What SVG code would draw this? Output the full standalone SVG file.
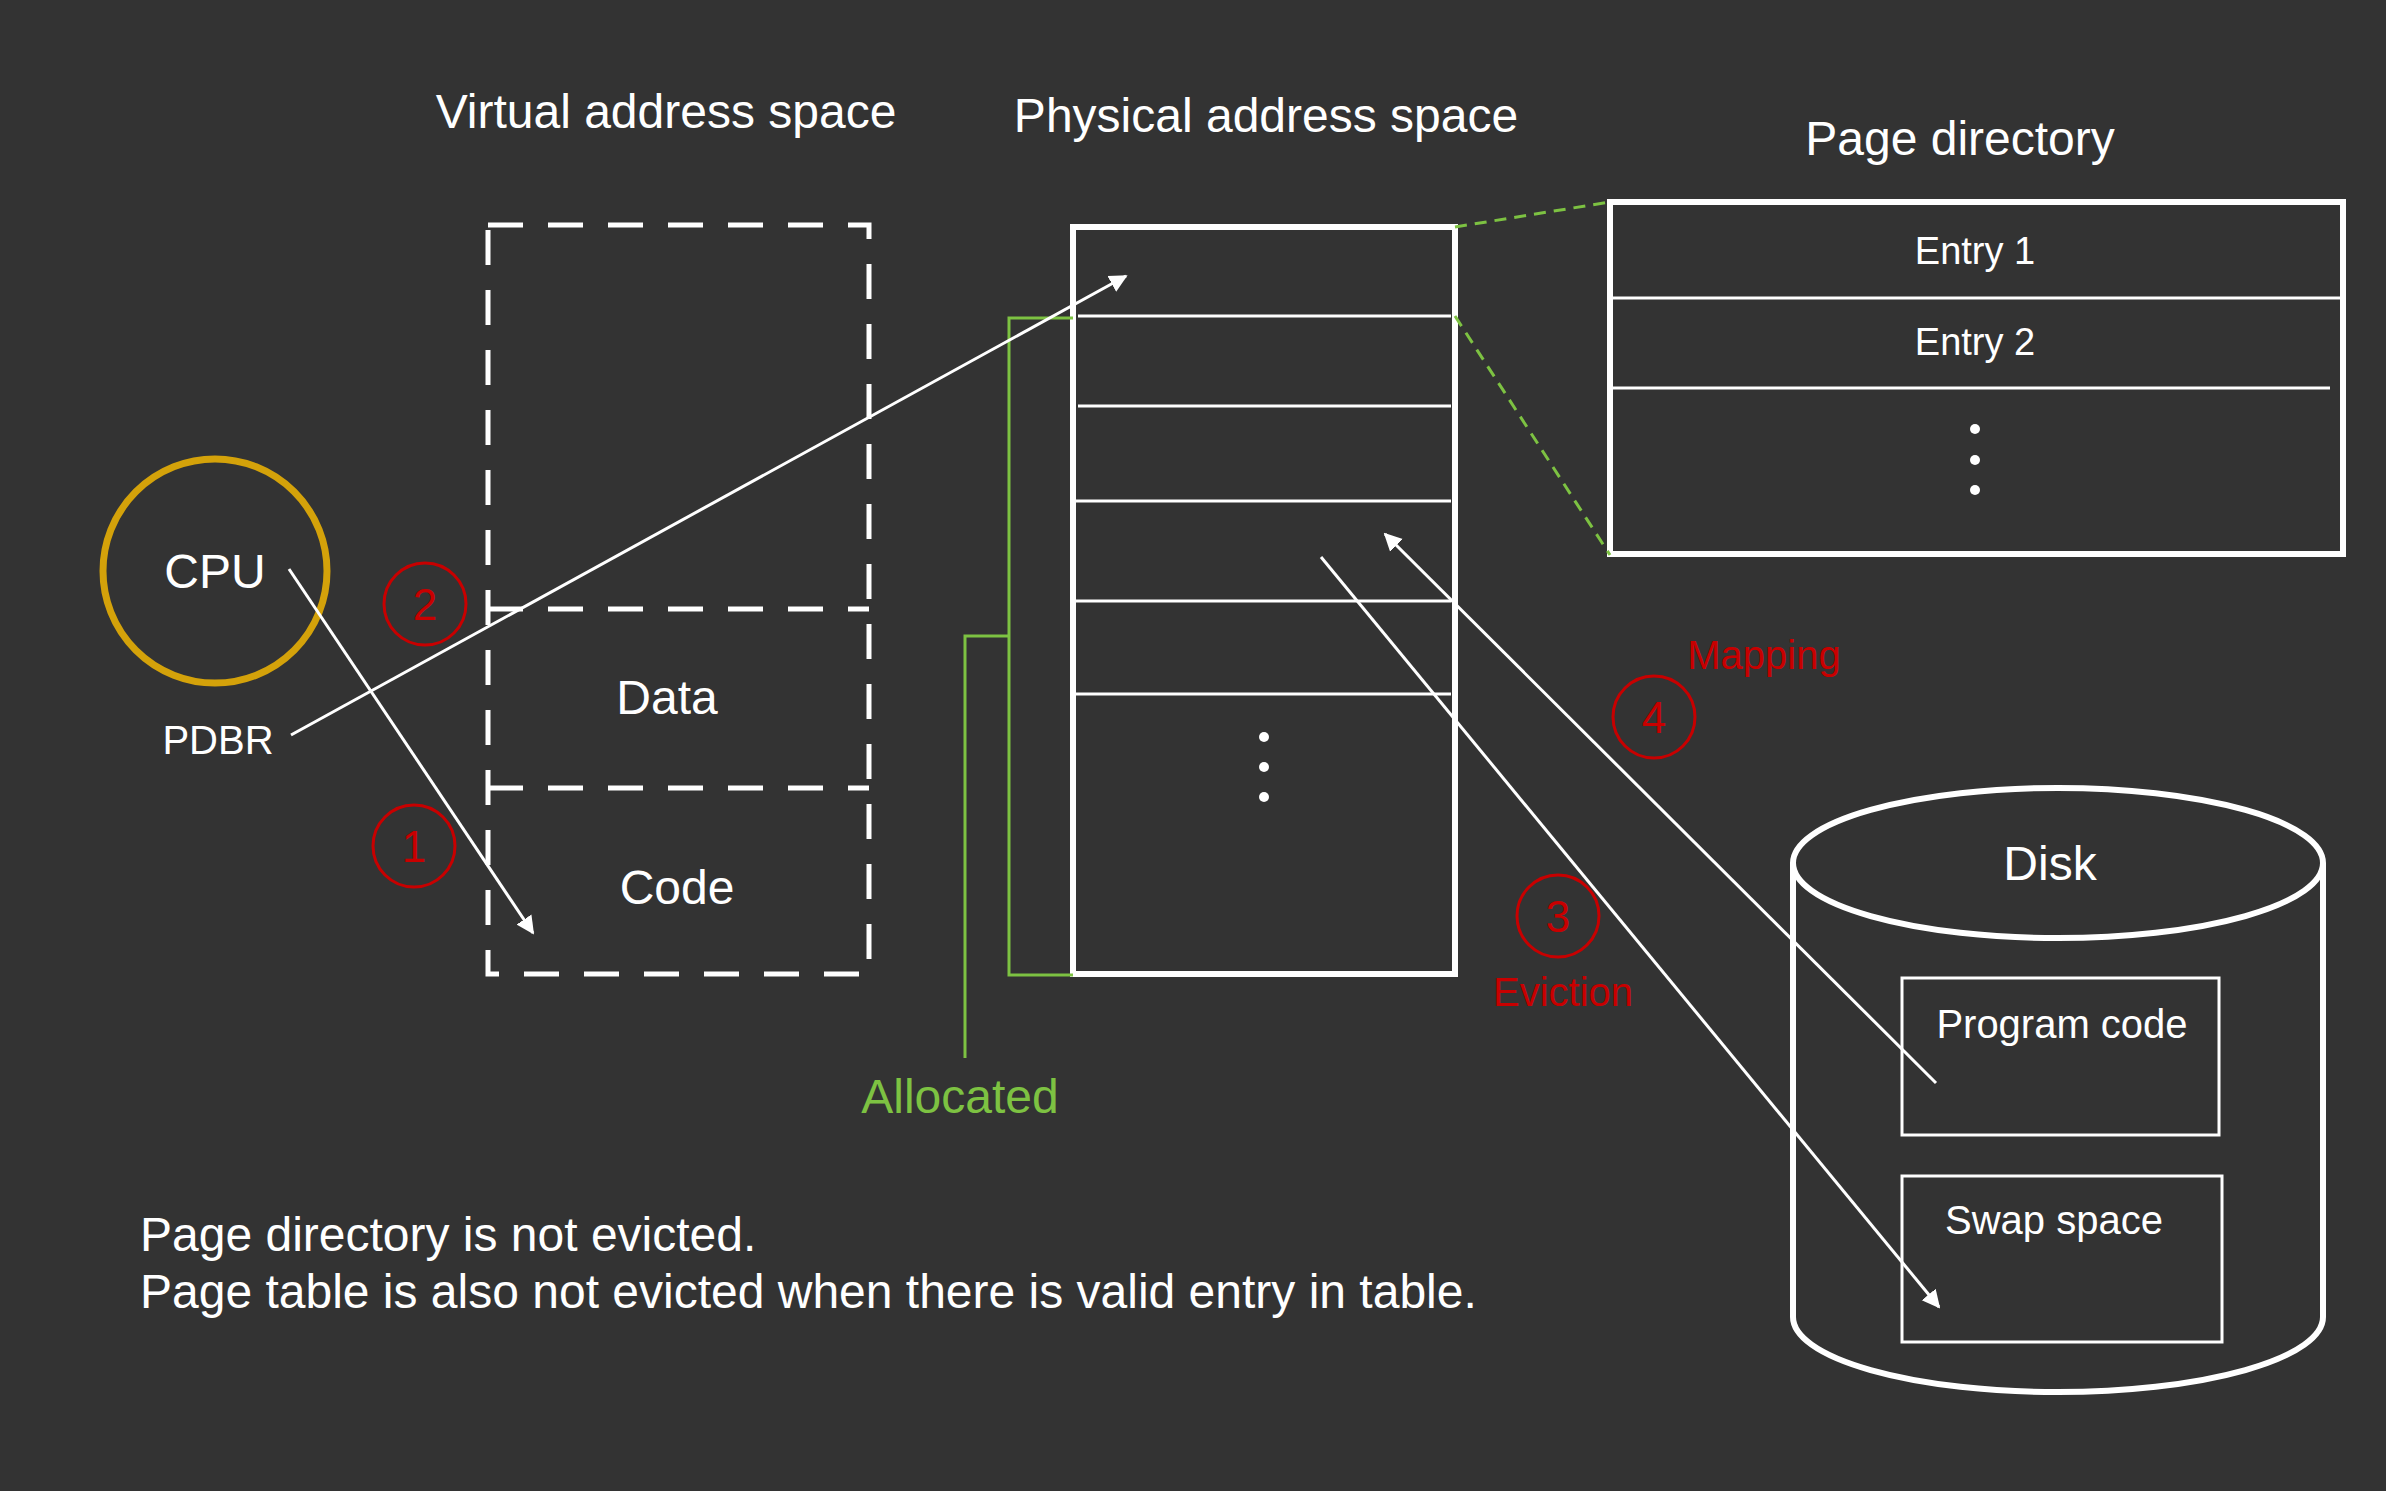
<svg xmlns="http://www.w3.org/2000/svg" width="2386" height="1491" viewBox="0 0 2386 1491">
<defs>
<marker id="ah" viewBox="0 0 10 10" refX="9" refY="5" markerWidth="18" markerHeight="22" markerUnits="userSpaceOnUse" orient="auto">
<path d="M0,0 L10,5 L0,10 z" fill="#ffffff"/>
</marker>
</defs>
<style>
text{font-family:"Liberation Sans",Arial,Helvetica,sans-serif;fill:#ffffff}
.t48{font-size:48px}
.t44{font-size:44px}
.t40{font-size:40px}
.t38{font-size:38px}
.mid{text-anchor:middle}
.red{fill:#c80000}
.grn{fill:#7dc242}
.dash{fill:none;stroke:#ffffff;stroke-width:5;stroke-dasharray:35 25}
.box{fill:none;stroke:#ffffff;stroke-width:6}
.thin{fill:none;stroke:#ffffff;stroke-width:3}
.conn{fill:none;stroke:#ffffff;stroke-width:3}
.num{fill:none;stroke:#c80000;stroke-width:3}
.gl{fill:none;stroke:#7dc242;stroke-width:3}
.gd{fill:none;stroke:#7dc242;stroke-width:3;stroke-dasharray:12 8}
</style>
<rect width="2386" height="1491" fill="#333333"/>

<g id="titles">
<text class="t48 mid" x="666" y="128">Virtual address space</text>
<text class="t48 mid" x="1266" y="132">Physical address space</text>
<text class="t48 mid" x="1960" y="155">Page directory</text>
</g>

<g id="virtual-space">
<path class="dash" d="M488,225 H869 V974 H488 Z"/>
<line class="dash" x1="488" y1="609" x2="869" y2="609"/>
<line class="dash" x1="488" y1="788" x2="869" y2="788"/>
<text class="t48 mid" x="667" y="714">Data</text>
<text class="t48 mid" x="677" y="904">Code</text>
</g>

<g id="cpu">
<circle cx="215" cy="571" r="112" fill="none" stroke="#d4a20a" stroke-width="7"/>
<text class="t48 mid" x="215" y="588">CPU</text>
<text class="t40 mid" x="218" y="754">PDBR</text>
</g>

<g id="physical-space">
<rect class="box" x="1073" y="227" width="382" height="747"/>
<line class="thin" x1="1078" y1="316" x2="1451" y2="316"/>
<line class="thin" x1="1078" y1="406" x2="1451" y2="406"/>
<line class="thin" x1="1076" y1="501" x2="1451" y2="501"/>
<line class="thin" x1="1076" y1="601" x2="1451" y2="601"/>
<line class="thin" x1="1076" y1="694" x2="1451" y2="694"/>
<circle cx="1264" cy="737" r="5" fill="#ffffff"/>
<circle cx="1264" cy="767" r="5" fill="#ffffff"/>
<circle cx="1264" cy="797" r="5" fill="#ffffff"/>
</g>

<g id="allocated">
<path class="gl" d="M1073,318 H1009 V975 H1073"/>
<path class="gl" d="M1009,636 H965 V1058"/>
<text class="t48 mid grn" x="960" y="1113">Allocated</text>
</g>

<g id="page-directory">
<rect class="box" x="1610" y="202" width="733" height="352"/>
<line class="thin" x1="1613" y1="298" x2="2340" y2="298"/>
<line class="thin" x1="1613" y1="388" x2="2330" y2="388"/>
<text class="t38 mid" x="1975" y="264">Entry 1</text>
<text class="t38 mid" x="1975" y="355">Entry 2</text>
<circle cx="1975" cy="429" r="5" fill="#ffffff"/>
<circle cx="1975" cy="460" r="5" fill="#ffffff"/>
<circle cx="1975" cy="490" r="5" fill="#ffffff"/>
</g>

<g id="disk">
<path class="box" d="M1793,863 V1317 A265,75 0 0 0 2323,1317 V863"/>
<ellipse class="box" cx="2058" cy="863" rx="265" ry="75"/>
<text class="t48 mid" x="2050" y="880">Disk</text>
<rect class="thin" x="1902" y="978" width="317" height="157"/>
<text class="t40 mid" x="2062" y="1038">Program code</text>
<rect class="thin" x="1902" y="1176" width="320" height="166"/>
<text class="t40 mid" x="2054" y="1234">Swap space</text>
</g>

<g id="labels">
<circle class="num" cx="414" cy="846" r="41"/>
<text class="t44 mid red" x="414" y="862">1</text>
<circle class="num" cx="425" cy="604" r="41"/>
<text class="t44 mid red" x="425" y="620">2</text>
<circle class="num" cx="1558" cy="916" r="41"/>
<text class="t44 mid red" x="1558" y="932">3</text>
<circle class="num" cx="1654" cy="717" r="41"/>
<text class="t44 mid red" x="1654" y="733">4</text>
<text class="t40 mid red" x="1764" y="669">Mapping</text>
<text class="t40 mid red" x="1563" y="1006">Eviction</text>
</g>

<g id="connectors">
<line class="conn" x1="289" y1="569" x2="533" y2="933" marker-end="url(#ah)"/>
<line class="conn" x1="291" y1="735" x2="1126" y2="276" marker-end="url(#ah)"/>
<line class="conn" x1="1936" y1="1083" x2="1385" y2="534" marker-end="url(#ah)"/>
<line class="conn" x1="1321" y1="557" x2="1939" y2="1307" marker-end="url(#ah)"/>
<line class="gd" x1="1455" y1="227" x2="1610" y2="202"/>
<line class="gd" x1="1455" y1="316" x2="1610" y2="555"/>
</g>

<g id="notes">
<text class="t48" x="140" y="1251">Page directory is not evicted.</text>
<text class="t48" x="140" y="1308">Page table is also not evicted when there is valid entry in table.</text>
</g>
</svg>
